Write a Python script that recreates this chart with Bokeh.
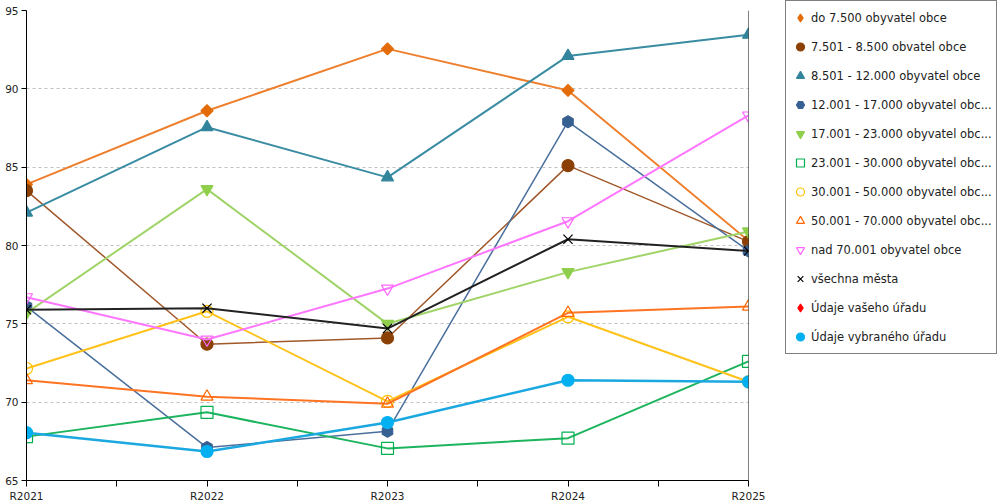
import math
from bokeh.plotting import figure
from bokeh.models import (ColumnDataSource, Legend, LegendItem, FixedTicker,
                          Span, Range1d)
from bokeh.embed import file_html
from bokeh.resources import INLINE

nan = float("nan")

years = ["R2021", "R2022", "R2023", "R2024", "R2025"]

do_7500 = [83.9, 88.6, 92.55, 89.9, 80.3]
s_7501_8500 = [83.5, 73.7, 74.1, 85.1, 80.25]
s_8501_12000 = [82.1, 87.55, 84.35, 92.1, 93.45]
s_12001_17000 = [76.1, 67.1, 68.15, 87.9, 79.65]
s_17001_23000 = [75.7, 83.6, 75.0, 78.3, 80.9]
s_23001_30000 = [67.8, 69.35, 67.05, 67.7, 72.6]
s_30001_50000 = [72.15, 75.8, 70.05, 75.45, 71.3]
s_50001_70000 = [71.4, 70.35, 69.9, 75.7, 76.1]
s_nad_70001 = [76.7, 74.0, 77.25, 81.55, 88.3]
vsechna_mesta = [75.9, 76.0, 74.7, 80.4, 79.65]
vaseho_uradu = [nan, nan, nan, nan, nan]
vybraneho_uradu = [68.05, 66.85, 68.7, 71.4, 71.3]

labels = [
    "do 7.500 obyvatel obce",
    "7.501 - 8.500 obvatel obce",
    "8.501 - 12.000 obyvatel obce",
    "12.001 - 17.000 obyvatel obc...",
    "17.001 - 23.000 obyvatel obc...",
    "23.001 - 30.000 obyvatel obc...",
    "30.001 - 50.000 obyvatel obc...",
    "50.001 - 70.000 obyvatel obc...",
    "nad 70.001 obyvatel obce",
    "všechna města",
    "Údaje vašeho úřadu",
    "Údaje vybraného úřadu",
]

series = [do_7500, s_7501_8500, s_8501_12000, s_12001_17000, s_17001_23000,
          s_23001_30000, s_30001_50000, s_50001_70000, s_nad_70001,
          vsechna_mesta, vaseho_uradu, vybraneho_uradu]

# (line color, marker, marker color, filled, line width, angle, size, legend marker)
styles = [
    ("#EE7F2D", "square", "#E36C09", True, 2, math.pi / 4, 8.5, "diamond"),
    ("#A0582A", "circle", "#8B4106", True, 1.5, 0, 12, None),
    ("#3A8CA3", "triangle", "#31849B", True, 2, 0, 12, None),
    ("#4A6F9C", "hex", "#376092", True, 1.5, math.pi / 6, 12, None),
    ("#A0D468", "inverted_triangle", "#8FCF4C", True, 2, 0, 12, None),
    ("#1DB45E", "square", "#00B050", False, 2, 0, 12, None),
    ("#FFC21A", "circle", "#FFC000", False, 2, 0, 12, None),
    ("#FF7422", "triangle", "#FF6600", False, 2, 0, 12, None),
    ("#FF77FF", "inverted_triangle", "#FF66FF", False, 2, 0, 12, None),
    ("#222222", "x", "#000000", False, 2, 0, 13, None),
    ("#FF0000", "diamond", "#FF0000", True, 2, 0, 12, None),
    ("#1BA8E0", "circle", "#00B0F0", True, 2.5, 0, 12, None),
]

p = figure(frame_width=722, frame_height=470, output_backend="svg",
           toolbar_location=None,
           x_range=Range1d(0, len(years) - 1), y_range=Range1d(65, 95),
           min_border_top=10, min_border_left=26, min_border_right=247,
           min_border_bottom=0)
p.outline_line_color = None
p.xgrid.grid_line_color = None
p.ygrid.grid_line_color = "#C0C0C0"
p.ygrid.grid_line_dash = "3 3"
p.ygrid.ticker = FixedTicker(ticks=[65, 70, 75, 80, 85, 90, 95])

p.xaxis.ticker = FixedTicker(ticks=list(range(len(years))),
                             minor_ticks=[i + 0.5 for i in range(len(years) - 1)])
p.xaxis.major_label_overrides = {i: y for i, y in enumerate(years)}
p.xaxis.major_tick_out = 6
p.xaxis.major_tick_in = 0
p.xaxis.minor_tick_out = 6
p.xaxis.minor_tick_in = 0
p.xaxis.major_label_standoff = 3

p.yaxis.ticker = FixedTicker(ticks=[65, 70, 75, 80, 85, 90, 95])
p.yaxis.major_tick_out = 5
p.yaxis.major_tick_in = 0
p.yaxis.minor_tick_line_color = None
p.yaxis.major_label_standoff = 3

for ax in (p.xaxis[0], p.yaxis[0]):
    ax.axis_line_color = "black"
    ax.major_tick_line_color = "black"
    ax.major_label_text_font = "DejaVu Sans"
    ax.major_label_text_font_size = "10.5px"
    ax.major_label_text_color = "#222222"
p.xaxis.minor_tick_line_color = "black"

p.add_layout(Span(location=len(years) - 1, dimension="height",
                  line_color="black", line_width=1))

items = []
for lab, vals, st in zip(labels, series, styles):
    lc, marker, mc, filled, lw, ang, sz, leg_marker = st
    xs = list(range(len(vals)))
    src = ColumnDataSource(dict(x=xs, y=vals))
    p.line("x", "y", source=src, line_color=lc, line_width=lw)
    style = dict(line_color=mc, fill_color=mc if filled else "white",
                 fill_alpha=1 if filled else 0, line_width=1.2)
    r = p.scatter("x", "y", source=src, marker=marker, size=sz, angle=ang, **style)
    if leg_marker is not None:
        proxy_src = ColumnDataSource(dict(x=xs, y=[nan] * len(xs)))
        r = p.scatter("x", "y", source=proxy_src, marker=leg_marker, size=sz, **style)
    items.append(LegendItem(label=lab, renderers=[r], index=0))

legend = Legend(items=items, location=(37, 126),
                label_text_font="DejaVu Sans", label_text_font_size="11.5px",
                label_text_color="#222222",
                glyph_width=20, glyph_height=25, label_height=25,
                label_standoff=1, spacing=4, padding=4, margin=0,
                border_line_color="black", border_line_width=1,
                background_fill_color="white")
p.add_layout(legend, "right")

open("out.html", "w").write(file_html(p, INLINE))
